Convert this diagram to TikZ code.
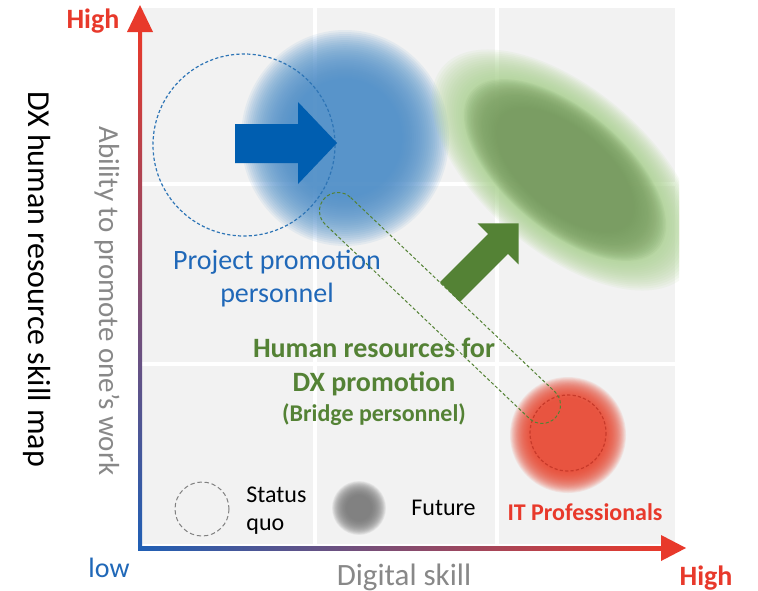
\documentclass[tikz,border=0pt]{standalone}
\usepackage{fontspec}
\setmainfont{Carlito}
\definecolor{cellgray}{HTML}{F2F2F2}
\definecolor{axred}{HTML}{E8392B}
\definecolor{axblue}{HTML}{1F5FB5}
\definecolor{blobblue}{HTML}{4E8FCA}
\definecolor{arrowblue}{HTML}{005EB0}
\definecolor{dashblue}{HTML}{2E75B6}
\definecolor{txtblue}{HTML}{2068B8}
\definecolor{lightgreen}{HTML}{A9D18E}
\definecolor{darkgreen}{HTML}{7A9D63}
\definecolor{arrowgreen}{HTML}{548235}
\definecolor{txtgreen}{HTML}{548235}
\definecolor{blobred}{HTML}{E84A33}
\definecolor{dashred}{HTML}{C83A2A}
\definecolor{txtred}{HTML}{E8392B}
\definecolor{txtgray}{HTML}{888888}
\definecolor{blobgray}{HTML}{7A7A7A}
% soft-edged blob: colour, cx, cy, rx, ry, inner plateau fraction
\newcommand{\softblob}[6]{%
  \foreach \i in {0,...,24}{%
    \fill[#1, fill opacity=0.09] (#2,#3) ellipse[x radius={#4*(1-(1-#6)*\i/24)}, y radius={#5*(1-(1-#6)*\i/24)}];
  }}
\tikzset{
  cell/.style={fill=cellgray},
  lbl/.style={inner sep=0pt, anchor=base},
  lblw/.style={inner sep=0pt, anchor=base west},
  fs12/.style={font=\fontsize{12pt}{14pt}\selectfont},
  fs14/.style={font=\fontsize{14pt}{16pt}\selectfont},
  fs12b/.style={font=\fontsize{12pt}{14pt}\selectfont\bfseries},
  fs14b/.style={font=\fontsize{14pt}{16pt}\selectfont\bfseries},
}
\begin{document}
\begin{tikzpicture}[x=0.5pt,y=-0.5pt]
\useasboundingbox (0,0) rectangle (758,590);
\fill[white] (0,0) rectangle (758,590);
% grid cells
\foreach \xa/\xb in {142/313,317/495,499/675}{
  \foreach \ya/\yb in {8/182,186/362,366/544}{
    \fill[cell] (\xa,\ya) rectangle (\xb,\yb);
  }
}
% blobs
\softblob{blobblue}{345}{138}{104}{108}{0.55}
\begin{scope}
  \clip (0,0) rectangle (679,590);
  \begin{scope}[shift={(565,170)}, rotate=-40]
    \softblob{lightgreen}{0}{0}{160}{82}{0.6}
    \softblob{darkgreen}{0}{0}{122}{60}{0.66}
  \end{scope}
\end{scope}
\softblob{blobred}{568}{435}{58}{58}{0.64}
\softblob{blobgray}{359}{508}{27}{27}{0.45}
% dashed outlines
\draw[dashblue, line width=0.6pt, dash pattern=on 1.6pt off 1.1pt] (244,145) circle[radius=91];
\draw[dashred, line width=0.6pt, dash pattern=on 1.6pt off 1.1pt] (568,433) circle[radius=38];
\draw[gray, line width=0.5pt, dash pattern=on 2.2pt off 1.4pt] (202,509) circle[radius=27];
\begin{scope}[shift={(338,211)}, rotate=-43.56]
  \draw[arrowgreen, line width=0.5pt, dash pattern=on 1.6pt off 1.1pt]
    (0,-18.5) -- (281.5,-18.5) arc[start angle=-90, end angle=90, radius=18.5]
    -- (0,18.5) arc[start angle=90, end angle=270, radius=18.5] -- cycle;
\end{scope}
% arrows
\fill[arrowblue] (235,124) -- (298,124) -- (298,102) -- (337,143) -- (298,184) -- (298,163) -- (235,163) -- cycle;
\begin{scope}[shift={(450,292)}, rotate=45]
  \fill[arrowgreen] (0,-14) -- (68,-14) -- (68,-29) -- (97,0) -- (68,29) -- (68,14) -- (0,14) -- cycle;
\end{scope}
% axes
\shade[bottom color=axblue, top color=axred] (138,550) rectangle (142,30);
\shade[left color=axblue, right color=axred] (138,546) rectangle (662,550);
\fill[axred] (140,5) -- (127,32) -- (153,32) -- cycle;
\fill[axred] (686,548) -- (661,535) -- (661,561) -- cycle;
% texts
\node[lbl, fs14b, text=txtred] (hightop) at (93,28) {High};
\node[lbl, fs14b, text=txtred] (highbot) at (706,585) {High};
\node[lbl, fs14, text=txtblue] (low) at (109,577) {low};
\node[lbl, font=\fontsize{15.5pt}{18pt}\selectfont, text=txtgray] (digital) at (404,585) {Digital skill};
\node[lbl, font=\fontsize{14.5pt}{17pt}\selectfont, text=txtgray, rotate=-90] (ability) at (99,301) {Ability to promote one's work};
\node[lbl, font=\fontsize{16pt}{19pt}\selectfont, text=black, rotate=-90] (dxmap) at (28,279) {DX human resource skill map};
\node[lbl, fs14, text=txtblue] (pp1) at (277,269) {Project promotion};
\node[lbl, fs14, text=txtblue] (pp2) at (277,302) {personnel};
\node[lbl, fs14b, text=txtgreen] (hr1) at (374,357) {Human resources for};
\node[lbl, fs14b, text=txtgreen] (hr2) at (374,391) {DX promotion};
\node[lbl, fs12b, text=txtgreen] (hr3) at (374,421) {(Bridge personnel)};
\node[lbl, fs12b, text=txtred] (itpro) at (585,520) {IT Professionals};
\node[lblw, fs12, text=black] (status) at (246,502) {Status};
\node[lblw, fs12, text=black] (quo) at (246,530) {quo};
\node[lblw, fs12, text=black] (future) at (411,515) {Future};
\end{tikzpicture}
\end{document}
